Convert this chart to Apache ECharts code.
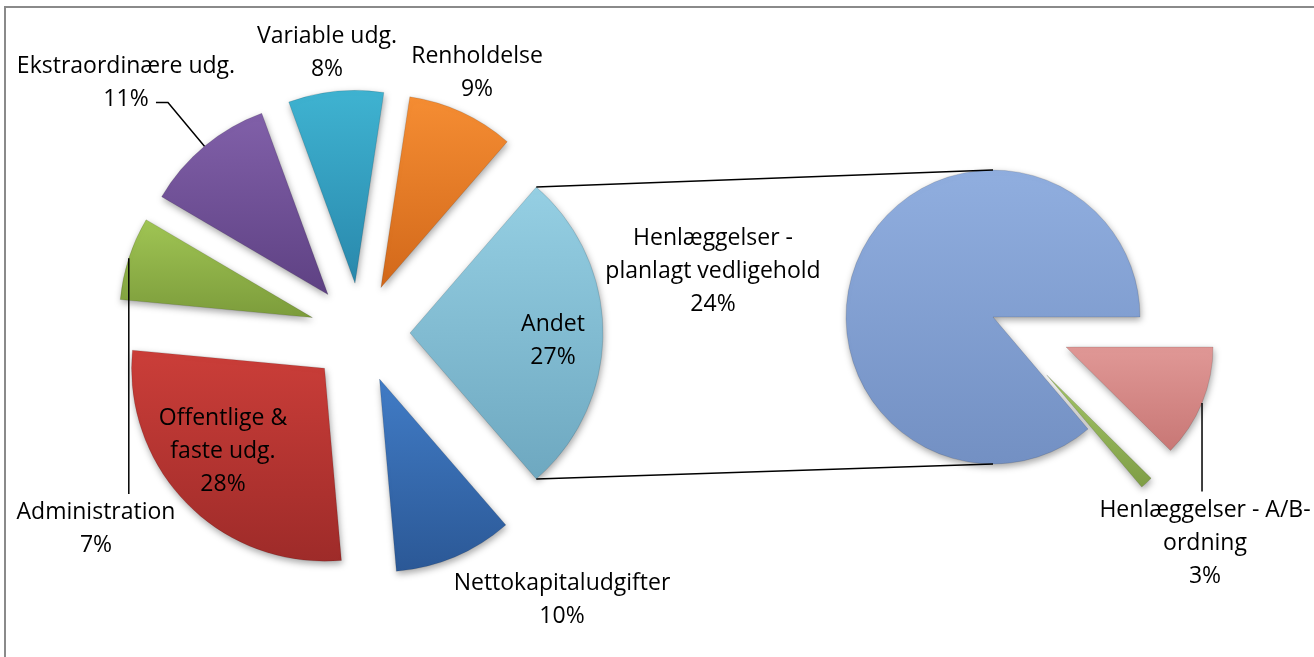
<!DOCTYPE html>
<html><head><meta charset="utf-8">
<script src="https://cdn.jsdelivr.net/npm/echarts@6/dist/echarts.min.js"></script>
<style>html,body{margin:0;padding:0;background:#fff}#c{width:1314px;height:657px}</style>
</head><body><div id="c"></div>
<script>
// ---- data ----
const mainCategories = ['Andet', 'Nettokapitaludgifter', 'Offentlige & faste udg.', 'Administration', 'Ekstraordinære udg.', 'Variable udg.', 'Renholdelse'];
const mainLabels = ['Andet', 'Nettokapitaludgifter', 'Offentlige &\nfaste udg.', 'Administration', 'Ekstraordinære udg.', 'Variable udg.', 'Renholdelse'];
const mainValues = [27.4, 10, 28, 7, 11, 8, 9];
const subCategories = ['Henlæggelser - A/B-ordning', '', 'Henlæggelser - planlagt vedligehold'];
const subLabels = ['Henlæggelser - A/B-\nordning', '', 'Henlæggelser -\nplanlagt vedligehold'];
const subValues = [3.4, 0.38, 23.6];

// ---- styles ----
const mainColors = [['#95CFE3', '#6EA8C0'], ['#417CC6', '#2B5896'], ['#CB3E39', '#9E2B29'], ['#A0C554', '#7C9C3B'], ['#8160A9', '#5E4183'], ['#3FB3D1', '#2988AC'], ['#F58D33', '#D2681A']];
const subColors = [['#E09896', '#C87775'], ['#A6C86A', '#7E9D45'], ['#90AEDF', '#7390C3']];
const mainLabelPos = [[553, 341], [562, 600], [223, 451], [96, 529], [126, 83], [327, 53], [477, 73]];
const subLabelPos = [[1205, 543], null, [713, 271]];
const C1 = [360, 333], R1 = 193, OFF1 = 50;
const C2 = [993, 317], R2 = 147, OFF2 = 79;
const FONT = 'Open Sans', FS = 23, LH = 33;

const chart = echarts.init(document.getElementById('c'));
const sum = a => a.reduce((s, v) => s + v, 0);
const startAngle1 = mainValues[0] / sum(mainValues) * 360 / 2;
const startAngle2 = 0;

function grad(c) {
  return new echarts.graphic.LinearGradient(0, 0, 0, 1, [{offset: 0, color: c[0]}, {offset: 1, color: c[1]}]);
}
// slice geometry with the same rule as the pie layout (screen angles, clockwise)
function slices(values, startDeg) {
  const tot = sum(values); let a = -startDeg * Math.PI / 180; const out = [];
  values.forEach(v => { const b = a + v / tot * Math.PI * 2; out.push([a, b]); a = b; });
  return out;
}
function pt(c, r, ang) { return [c[0] + r * Math.cos(ang), c[1] + r * Math.sin(ang)]; }

const sl1 = slices(mainValues, startAngle1);
const sl2 = slices(subValues, startAngle2);
function sliceCenter(c, off, s) { return pt(c, off, (s[0] + s[1]) / 2); }

// connector lines from "Andet" to the second pie
const andC = sliceCenter(C1, OFF1, sl1[0]);
const andTop = pt(andC, R1, sl1[0][0]);
const andBot = pt(andC, R1, sl1[0][1]);
const subTop = [C2[0], C2[1] - R2];
const subBot = [C2[0], C2[1] + R2];

// label lines
function anchor(c, off, r, s) { const m = (s[0] + s[1]) / 2; return pt(sliceCenter(c, off, s), r, m); }
const ekIdx = 4, adIdx = 3, abIdx = 0;
const ekA = anchor(C1, OFF1, R1, sl1[ekIdx]);
const ekMid = (sl1[ekIdx][0] + sl1[ekIdx][1]) / 2;
const ekP1 = pt(ekA, 57, ekMid);
const ekP2 = [ekP1[0] - 12, ekP1[1]];
const adA = anchor(C1, OFF1, R1, sl1[adIdx]);
const adEnd = [adA[0], mainLabelPos[adIdx][1] - LH - 2];
const abA = anchor(C2, OFF2, R2, sl2[abIdx]);
const abEnd = [abA[0], subLabelPos[abIdx][1] - LH * 1.5 - 2];

const lineStyle = {stroke: '#000', lineWidth: 1.5};
const shadow = {shadowBlur: 7, shadowOffsetX: 1, shadowOffsetY: 3, shadowColor: 'rgba(0,0,0,0.35)'};

function labelTexts(labels, values, pos) {
  const out = [];
  labels.forEach((l, i) => {
    if (!pos[i] || !l) return;
    out.push({type: 'text', x: pos[i][0], y: pos[i][1], z: 20, silent: true,
      style: {text: l + '\n' + Math.round(values[i]) + '%', fill: '#000', fontFamily: FONT, fontSize: FS,
        lineHeight: LH, align: 'center', verticalAlign: 'middle', textAlign: 'center', textVerticalAlign: 'middle'}});
  });
  return out;
}

chart.setOption({
  animation: false,
  backgroundColor: '#fff',
  graphic: [
    {type: 'rect', z: 0, shape: {x: 5, y: 7, width: 1400, height: 1000}, style: {fill: 'none', stroke: '#8a8a8a', lineWidth: 2}, silent: true},
    {type: 'polyline', z: 15, shape: {points: [andTop, subTop]}, style: lineStyle, silent: true},
    {type: 'polyline', z: 15, shape: {points: [andBot, subBot]}, style: lineStyle, silent: true},
    {type: 'polyline', z: 15, shape: {points: [ekA, ekP1, ekP2]}, style: lineStyle, silent: true},
    {type: 'polyline', z: 15, shape: {points: [adA, adEnd]}, style: lineStyle, silent: true},
    {type: 'polyline', z: 15, shape: {points: [abA, abEnd]}, style: lineStyle, silent: true}
  ].concat(labelTexts(mainLabels, mainValues, mainLabelPos), labelTexts(subLabels, subValues, subLabelPos)),
  series: [
    {
      type: 'pie', z: 2, center: C1, radius: R1, startAngle: startAngle1, clockwise: true,
      selectedMode: 'multiple', selectedOffset: OFF1, avoidLabelOverlap: false,
      label: {show: false}, labelLine: {show: false},
      itemStyle: Object.assign({borderWidth: 1, borderColor: 'rgba(0,0,0,0.12)'}, shadow),
      select: {itemStyle: {borderWidth: 1, borderColor: 'rgba(0,0,0,0.12)'}},
      emphasis: {disabled: true},
      data: mainValues.map((v, i) => ({name: mainCategories[i], value: v, selected: true, itemStyle: {color: grad(mainColors[i])}}))
    },
    {
      type: 'pie', z: 2, center: C2, radius: R2, startAngle: startAngle2, clockwise: true,
      selectedMode: 'multiple', selectedOffset: OFF2, avoidLabelOverlap: false,
      label: {show: false}, labelLine: {show: false},
      itemStyle: Object.assign({borderWidth: 1, borderColor: 'rgba(0,0,0,0.12)'}, shadow),
      select: {itemStyle: {borderWidth: 1, borderColor: 'rgba(0,0,0,0.12)'}},
      emphasis: {disabled: true},
      data: subValues.map((v, i) => ({name: subCategories[i], value: v, selected: i < 2, itemStyle: {color: grad(subColors[i])}}))
    }
  ]
});
</script></body></html>
